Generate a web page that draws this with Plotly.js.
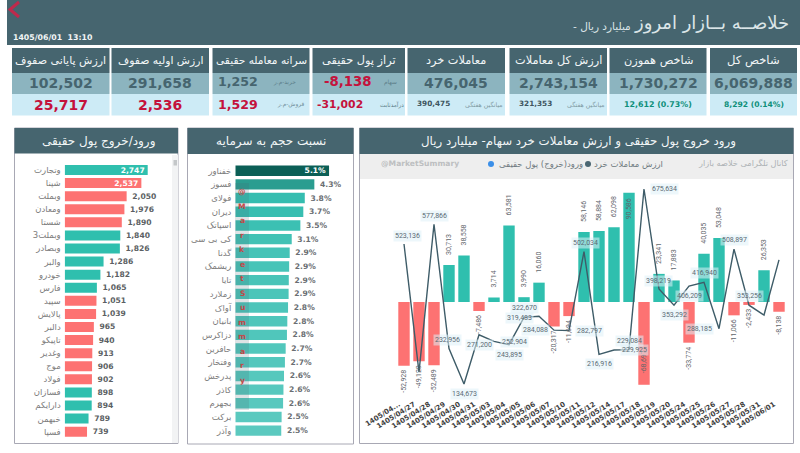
<!DOCTYPE html>
<html><head><meta charset="utf-8">
<script src="https://cdn.plot.ly/plotly-3.0.1.min.js"></script>
<style>html,body{margin:0;padding:0;background:#fff;overflow:hidden}</style>
</head><body><div id="chart" style="width:800px;height:453px"></div>
<script>
// ---------- DATA ----------
var flowNames = ['وتجارت','شپنا','وبملت','ومعادن','شستا','وبملت3','وبصادر','والبر','خودرو','فارس','سپید','پالایش','دالبر','تاپیکو','وغدیر','موج','فولاد','فسازان','دارایکم','خبهمن','فسپا'];
var flowValues = [2747,2537,2050,1976,1890,1840,1826,1286,1182,1065,1051,1039,965,940,913,906,902,898,894,789,739];
var flowSigns = [1,-1,-1,-1,-1,1,1,1,1,1,-1,-1,-1,-1,-1,-1,-1,1,1,1,-1];

var ratioNames = ['خفناور','فسوز','فولای','دیران','اسپاتک','کی بی سی','گدنا','ریشمک','تایا','زملارد','آواک','بانیان','دزاکرس','حافرین','وفتخار','پدرخش','کاذر','بجهرم','برکت','وآذر'];
var ratioValues = [5.1,4.3,3.78,3.70,3.54,3.07,2.96,2.93,2.91,2.90,2.87,2.83,2.81,2.74,2.70,2.65,2.62,2.60,2.52,2.50];
var ratioLabels = ['5.1%','4.3%','3.8%','3.7%','3.5%','3.1%','2.9%','2.9%','2.9%','2.9%','2.8%','2.8%','2.8%','2.7%','2.7%','2.6%','2.6%','2.6%','2.5%','2.5%'];
var ratioColors = ['#0b5f56','#2a9d90','#35bdb0','#38beb1','#3cc0b3','#42c2b5','#45c3b7','#47c4b8','#49c4b8','#4bc5b9','#4dc5ba','#4fc6bb','#50c6bb','#52c7bc','#54c7bd','#56c8bd','#57c8be','#58c8be','#5ac9bf','#5bc9bf'];

var dates = ['1405/04...','1405/04/27','1405/04/28','1405/04/29','1405/04/30','1405/04/31','1405/05/03','1405/05/04','1405/05/05','1405/05/06','1405/05/07','1405/05/10','1405/05/11','1405/05/12','1405/05/14','1405/05/17','1405/05/18','1405/05/19','1405/05/20','1405/05/24','1405/05/25','1405/05/26','1405/05/27','1405/05/28','1405/05/31','1405/06/01'];
var realFlow = [-52928,-49120,-52489,30713,38558,-7486,3714,63581,3990,16060,-20317,-11694,58146,58884,62098,90586,-68697,23341,17883,-33774,40035,53048,-11066,-2433,26353,-8138];
var retailValue = [523136,167500,577866,232956,134673,271200,252904,243895,319483,322670,284088,282797,502034,216916,229084,229925,675634,398219,353292,406209,416940,288185,508897,353256,326000,479000];
var retailLabelled = [1,0,1,1,1,1,1,1,1,1,1,1,1,1,1,1,1,1,1,1,1,1,1,1,0,0];

var pageTitle = 'خلاصــه بــازار امروز';
var pageSubtitle = '- میلیارد ریال';
var stamp = '1405/06/01  13:10';

var tileTitles = ['شاخص کل','شاخص هموزن','ارزش کل معاملات','معاملات خرد','تراز پول حقیقی','سرانه معامله حقیقی','ارزش اولیه صفوف','ارزش پایانی صفوف'];
var tileMain = ['6,069,888','1,730,272','2,743,154','476,045','-8,138','1,252','291,658','102,502'];
var tileSub = ['8,292 (0.14%)','12,612 (0.73%)','321,353','390,475','-31,002','1,529','2,536','25,717'];

// ---------- PAGE GEOMETRY AND STYLE ----------
var W = 800, H = 453;
var HEAD = '#46656f', MID = '#8cb4bf', LIGHT = '#cdebf6', TEAL = '#2fbfae', RED = '#fd7272';
var AR = '"DejaVu Sans", sans-serif', NUM = '"DejaVu Sans", sans-serif', SM = 'Roboto, sans-serif';
function px(x){return x/W;} function py(y){return 1-y/H;}
var shapes = [], ann = [];
function rect(x0,y0,x1,y1,fill,line){shapes.push({type:'rect',xref:'paper',yref:'paper',layer:'below',x0:px(x0),x1:px(x1),y0:py(y0),y1:py(y1),fillcolor:fill,line:line?{color:line,width:1}:{width:0}});}
function label(x,y,text,size,color,anchor,family,bold){ann.push({xref:'paper',yref:'paper',x:px(x),y:py(y),text:bold?'<b>'+text+'</b>':text,showarrow:false,xanchor:anchor||'center',yanchor:'middle',font:{family:family||AR,size:size,color:color},borderpad:0});}

// top banner
rect(7,0,800,45,HEAD);
shapes.push({type:'path',xref:'paper',yref:'paper',layer:'above',path:'M '+px(19)+' '+py(2)+' L '+px(10)+' '+py(9.5)+' L '+px(19)+' '+py(17),line:{color:'#bf2a4c',width:3},fillcolor:'rgba(0,0,0,0)'});
label(790,23,pageTitle,18,'#dbe5e8','right');
label(632,27,pageSubtitle,10.5,'#dbe5e8','right');
label(12,38,stamp,7.8,'#f2f5f6','left',NUM,true);

// KPI tiles
var tileL = [710,609.5,509.5,407.5,312.5,212.5,111.5,12];
var tileR = [797,706.5,607,505,405,309.5,209,109.5];
var tileTitleSize = [11.6,11.3,11.3,11.3,11.3,10.6,10.8,11];
var tileMainColor = [HEAD,HEAD,HEAD,HEAD,'#c4123c',HEAD,HEAD,HEAD];
var tileSubColor = ['#0e8f7a','#0e8f7a','#3e5560','#3e5560','#c4123c','#c4123c','#c4123c','#c4123c'];
for (var i=0;i<8;i++){
  var L=tileL[i],R=tileR[i],C=(L+R)/2;
  rect(L,48,R,73,HEAD); rect(L,73,R,94,MID); rect(L,94,R,115.5,LIGHT);
  label(C,60.5,tileTitles[i],tileTitleSize[i],'#f2f6f7');
  if(i<2){ label(C,83.5,tileMain[i],14,HEAD,'center',NUM,true); label(C,104.5,tileSub[i],i==0?7.6:7.9,tileSubColor[i],'center',NUM,true); }
  else if(i==2||i==3){ label(C,83.5,tileMain[i],14,HEAD,'center',NUM,true);
    label(L+26,103.5,tileSub[i],7.3,tileSubColor[i],'center',NUM,true);
    label(R-1.5,105,'میانگین هفتگی',6.2,'#7f9aa3','right'); }
  else if(i==4){ label(347.5,81,tileMain[i],13.3,tileMainColor[i],'center',NUM,true); label(340,104,tileSub[i],10.8,tileSubColor[i],'center',NUM,true);
    label(398,82,'سهام',5.8,'#5d7f8a','right'); label(404.5,105,'درآمدثابت',5.8,'#5d7f8a','right'); }
  else if(i==5){ label(238,81,tileMain[i],12.6,tileMainColor[i],'center',NUM,true); label(238,105,tileSub[i],12.6,tileSubColor[i],'center',NUM,true);
    label(297,82,'خرید-م.ر',5.8,'#5d7f8a','right'); label(305,105,'فروش-م.ر',5.8,'#6f8f99','right'); }
  else { label(C,83.5,tileMain[i],14,tileMainColor[i],'center',NUM,true); label(C,105,tileSub[i],14,tileSubColor[i],'center',NUM,true); }
}

// chart panels
rect(14.5,128,178,443.5,'#ffffff','#a8a8b4'); rect(14.5,128,178,153.5,HEAD);
rect(172,155,178,443,'#f2f3f4'); rect(173.5,160,177,165.5,'#c4c7c9');
label(98.5,141,'ورود/خروج پول حقیقی',12,'#f2f6f7');
rect(187.5,128,353.5,444,'#ffffff','#a8a8b4'); rect(187.5,128,353.5,154,HEAD);
label(270.5,141,'نسبت حجم به سرمایه',12,'#f2f6f7');
rect(359.5,128,793.5,443.5,'#ffffff','#a8a8b4'); rect(359.5,128,793.5,154,HEAD); rect(360,154,793,179,'#eeeeee');
label(578,141,'ورود خروج پول حقیقی و ارزش معاملات خرد سهام- میلیارد ریال',11.8,'#f2f6f7');
label(789,163,'کانال تلگرامی خلاصه بازار',8.2,'#adb2b5','right');
label(664,164,'ارزش معاملات خرد',8.5,'#6e7a80','right');
label(584,164,'ورود(خروج) پول حقیقی',8.5,'#6e7a80','right');
label(380,163,'@MarketSummary',7.6,'#bdbfc1','left',NUM,true);
shapes.push({type:'circle',xref:'paper',yref:'paper',layer:'below',x0:px(585),x1:px(591),y0:py(167),y1:py(161),fillcolor:'#4a6672',line:{width:0}});
shapes.push({type:'circle',xref:'paper',yref:'paper',layer:'below',x0:px(488),x1:px(494),y0:py(167),y1:py(161),fillcolor:'#3b8fe8',line:{width:0}});

// vertical red watermark over the ratio panel
var wmLetters = ['@','M','a','r','k','e','t','S','u','m','m','a','r','y'];
shapes.push({type:'rect',xref:'paper',yref:'paper',layer:'above',x0:px(235),x1:px(249),y0:py(183),y1:py(410),fillcolor:'rgba(70,101,111,0.18)',line:{width:0}});
for (var k=0;k<wmLetters.length;k++) label(242.5,191.7+14.5*k,wmLetters[k],7.6,'#c44848','center',NUM,true);

var fmt = function(v){return v.toString().replace(/\B(?=(\d{3})+(?!\d))/g,',');};

// combo chart bar labels (rotated)
var barInside = [0,0,0,0,0,0,0,0,0,0,0,0,0,0,0,1,1,0,0,0,0,0,0,0,0,0];
dates.forEach(function(d,i){ var v=realFlow[i],pos=v>=0,inn=barInside[i];
  ann.push({xref:'x3',yref:'y3',x:d,y:v,text:(pos?'':'-')+fmt(Math.abs(v)),textangle:-90,showarrow:false,
    yanchor:(pos!==!!inn)?'bottom':'top',yshift:inn?(pos?-4:9):(pos?7.5:-2.5),
    font:{family:SM,size:7,color:'#5f666b'}});
});

// combo chart line labels
var retailShiftX = [3,0,0,-2,0,0,20,0,-5,-15,-19,20,1,0,15,5,20,-1,0,0,0,-20,0,0,0,0];
var retailShiftY = [8,0,8,9,-10,-10.5,-1,-10,-1,8,0,0,9,-10,9,0,0,8,-10,-10,9,0,9,9,0,0];
dates.forEach(function(d,i){ if(!retailLabelled[i]) return;
  ann.push({xref:'x3',yref:'y4',x:d,y:retailValue[i],text:fmt(retailValue[i]),showarrow:false,xshift:retailShiftX[i],yshift:retailShiftY[i],font:{family:SM,size:7,color:'#5a6a74'},bgcolor:'rgba(222,240,248,0.55)',borderpad:1});
});

// ---------- TRACES ----------
var flowColors = flowSigns.map(function(s){return s>0?TEAL:RED;});
var traces = [
 {type:'bar',orientation:'h',x:flowValues,y:flowNames,xaxis:'x',yaxis:'y',marker:{color:flowColors},
  text:flowValues.map(function(v,i){return (i<2?'':'\u00a0')+fmt(v);}),textposition:flowValues.map(function(v,i){return i<2?'inside':'outside';}),insidetextanchor:'end',constraintext:'none',cliponaxis:false,
  textfont:{family:NUM,size:7.6,color:flowValues.map(function(v,i){return i<2?'#ffffff':'#5b5f63';}),weight:700},hoverinfo:'skip'},
 {type:'bar',orientation:'h',x:ratioValues,y:ratioNames,xaxis:'x2',yaxis:'y2',marker:{color:ratioColors},
  text:ratioLabels.map(function(t,i){return (i<1?'':'\u00a0')+t;}),textposition:ratioValues.map(function(v,i){return i<1?'inside':'outside';}),insidetextanchor:'end',constraintext:'none',cliponaxis:false,
  textfont:{family:NUM,size:7.6,color:ratioValues.map(function(v,i){return i<1?'#ffffff':'#6a6e72';}),weight:700},hoverinfo:'skip'},
 {type:'bar',x:dates,y:realFlow,xaxis:'x3',yaxis:'y3',marker:{color:realFlow.map(function(v){return v>=0?TEAL:RED;})},hoverinfo:'skip'},
 {type:'scatter',mode:'lines',x:dates,y:retailValue,xaxis:'x3',yaxis:'y4',line:{color:'#3e5c68',width:1.4},hoverinfo:'skip'}
];

var layout = {
 width:W,height:H,margin:{l:0,r:0,t:0,b:0},paper_bgcolor:'#ffffff',plot_bgcolor:'rgba(0,0,0,0)',showlegend:false,
 bargap:0.24,shapes:shapes,annotations:ann,
 xaxis:{domain:[px(64.7),px(170)],range:[0,3485],visible:false,fixedrange:true},
 yaxis:{domain:[py(438.2),py(163.46)],anchor:'x',autorange:'reversed',type:'category',showline:false,showgrid:false,zeroline:false,ticks:'',ticklabelstandoff:3,tickfont:{family:AR,size:8.5,color:'#7c7c7c'},fixedrange:true,automargin:false},
 xaxis2:{domain:[px(235.3),px(350)],range:[0,6.24],visible:false,fixedrange:true},
 yaxis2:{domain:[py(437.5),py(163.86)],anchor:'x2',autorange:'reversed',type:'category',showline:false,showgrid:false,zeroline:false,ticks:'',ticklabelstandoff:3,tickfont:{family:AR,size:8.5,color:'#7c7c7c'},fixedrange:true,automargin:false},
 xaxis3:{domain:[px(396.5),px(786.5)],type:'category',range:[-0.5,25.5],anchor:'y3',tickangle:-32,tickmode:'array',tickvals:dates,ticktext:dates,ticklabelstandoff:3,ticklabelshift:-5,tickfont:{family:NUM,size:7,color:'#3f3f3f',weight:700},showline:false,showgrid:false,zeroline:false,ticks:'',fixedrange:true,automargin:false},
 yaxis3:{domain:[py(395),py(180)],anchor:'x3',range:[-77190,101260],visible:false,fixedrange:true,showgrid:false,zeroline:false},
 yaxis4:{domain:[py(395),py(180)],anchor:'x3',overlaying:'y3',side:'right',range:[104190,700600],visible:false,fixedrange:true,showgrid:false,zeroline:false}
};
Plotly.newPlot('chart',traces,layout,{staticPlot:true,displayModeBar:false});
</script></body></html>
